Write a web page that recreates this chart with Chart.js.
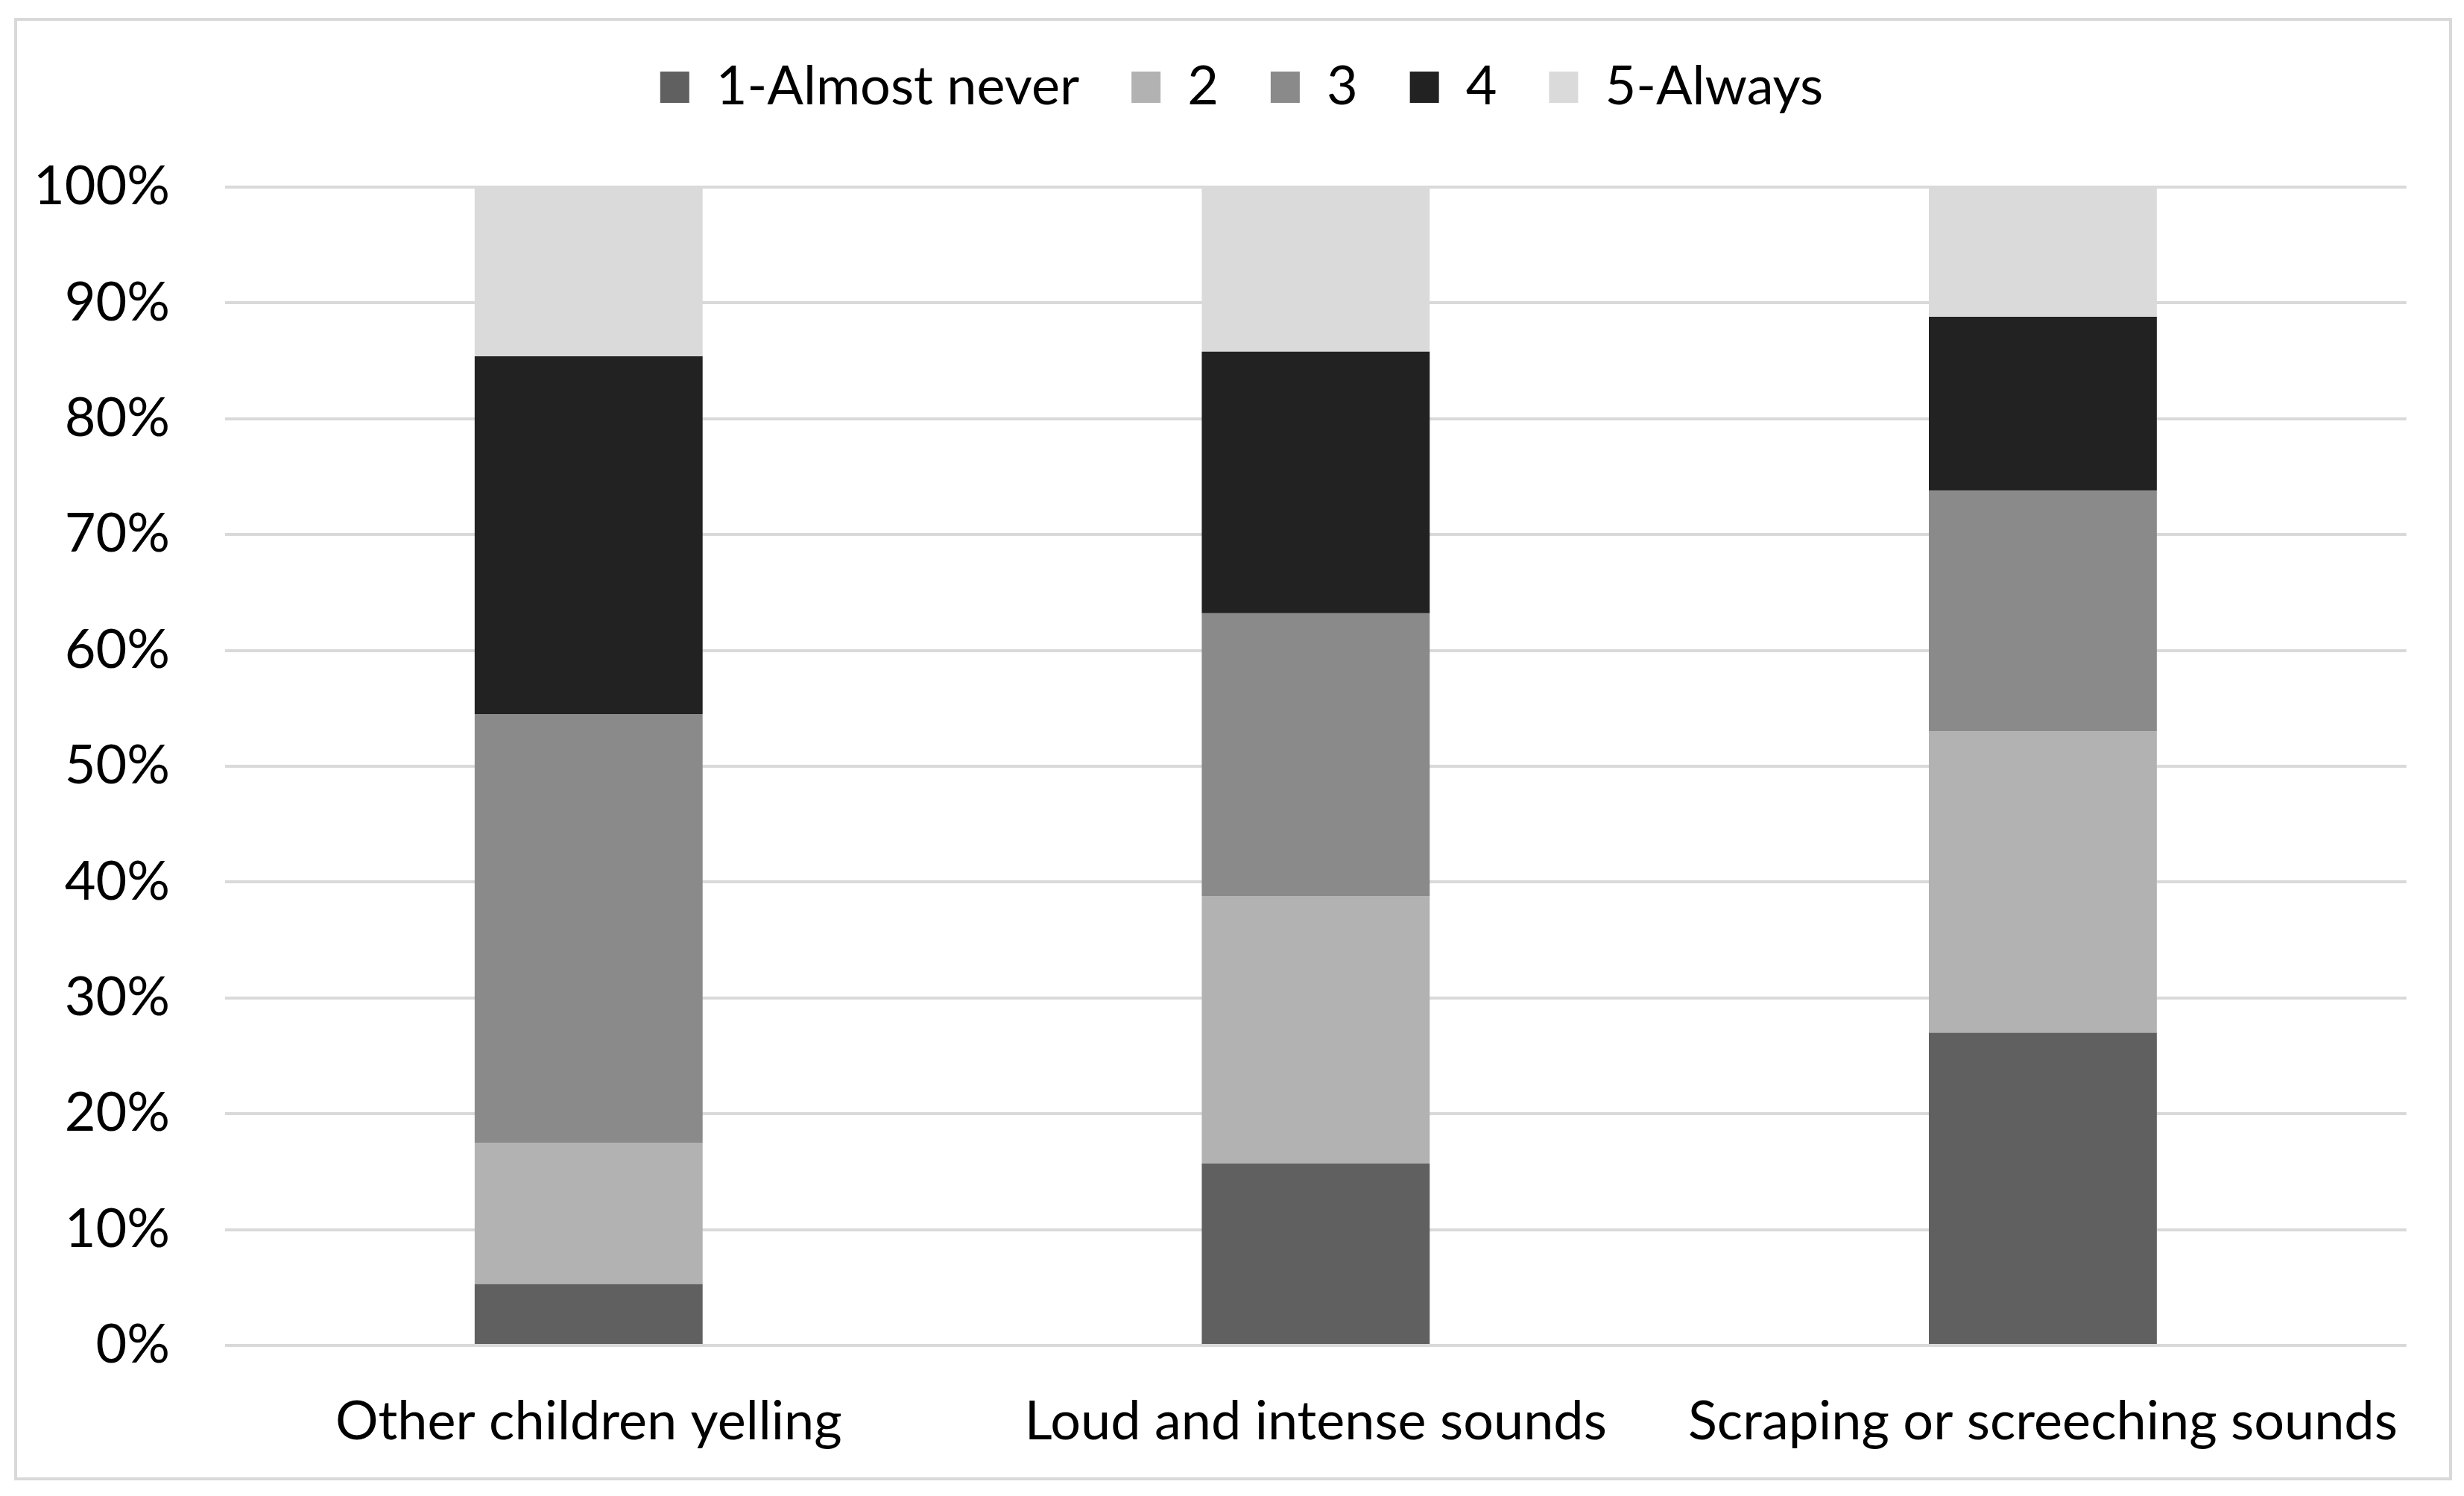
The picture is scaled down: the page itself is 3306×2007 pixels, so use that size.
<!DOCTYPE html>
<html>
<head>
<meta charset="utf-8">
<script src="https://cdn.jsdelivr.net/npm/chart.js@4"></script>
<style>
  html, body { margin: 0; padding: 0; background: #ffffff; }
  #frame {
    position: absolute; left: 19px; top: 24px;
    width: 3271px; height: 1962px;
    box-sizing: border-box; border: 4px solid #d9d9d9; background: #fff;
  }
  #c { display: block; }
</style>
</head>
<body>
<div id="frame"><canvas id="c" width="3263" height="1954"></canvas></div>
<script>
const categories = ['Other children yelling', 'Loud and intense sounds', 'Scraping or screeching sounds'];
const seriesNames = ['1-Almost never', '2', '3', '4', '5-Always'];
const almostNever = [5.3, 15.7, 27.0];
const level2 = [12.2, 23.1, 26.0];
const level3 = [37.0, 24.4, 20.8];
const level4 = [30.9, 22.6, 15.0];
const always = [14.6, 14.2, 11.2];
const yTicks = [0, 10, 20, 30, 40, 50, 60, 70, 80, 90, 100];

const colors = ['#606060', '#b2b2b2', '#8a8a8a', '#222222', '#dadada'];
const seriesValues = [almostNever, level2, level3, level4, always];

const FONT = 'Lato';
const FS = 72;

const legendTweak = {
  id: 'legendTweak',
  beforeLayout(chart) {
    const lg = chart.legend;
    if (lg && !lg._gapPatched) {
      const orig = lg.fit;
      lg.fit = function () { orig.call(this); this.height += 88; };
      lg._gapPatched = true;
    }
  },
  afterLayout(chart) {
    const lg = chart.legend;
    if (lg) { lg.left += 39; lg.right += 39; }
  }
};

new Chart(document.getElementById('c'), {
  type: 'bar',
  data: {
    labels: categories,
    datasets: seriesValues.map((vals, i) => ({
      label: seriesNames[i],
      data: vals,
      backgroundColor: colors[i],
      borderWidth: 0,
      categoryPercentage: 0.3135,
      barPercentage: 1
    }))
  },
  options: {
    responsive: false,
    devicePixelRatio: 1,
    animation: false,
    layout: { padding: { top: -17, left: 0, right: 55, bottom: 0 } },
    plugins: {
      tooltip: { enabled: false },
      legend: {
        position: 'top',
        align: 'center',
        labels: {
          boxWidth: 39,
          boxHeight: 42,
          padding: 70,
          color: '#000000',
          font: { family: FONT, size: FS }
        }
      }
    },
    scales: {
      x: {
        stacked: true,
        afterFit(scale) { scale.height = 177; },
        grid: { display: false, drawTicks: false },
        border: { display: false },
        ticks: {
          color: '#000000',
          font: { family: FONT, size: FS },
          padding: 60,
          maxRotation: 0,
          autoSkip: false
        }
      },
      y: {
        stacked: true,
        min: 0,
        max: 100,
        afterFit(scale) { scale.width = 279; },
        afterBuildTicks(scale) { scale.ticks = yTicks.map(v => ({ value: v })); },
        grid: { color: '#d9d9d9', lineWidth: 4, drawTicks: false },
        border: { display: false },
        ticks: {
          color: '#000000',
          font: { family: FONT, size: FS },
          padding: 74,
          callback: v => v + '%'
        }
      }
    }
  },
  plugins: [legendTweak]
});
</script>
</body>
</html>
